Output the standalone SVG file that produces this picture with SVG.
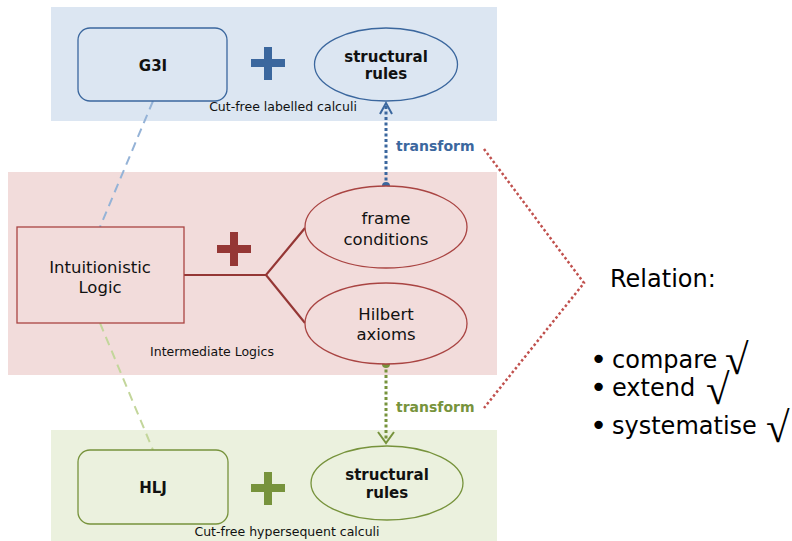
<svg xmlns="http://www.w3.org/2000/svg" width="792" height="541" viewBox="0 0 792 541">
  <style>
    .lbl { font-family: "DejaVu Sans", "Liberation Sans", sans-serif; fill: #111; text-anchor: middle; }
    .big { font-size: 16.5px; }
    .bold { font-size: 15px; font-weight: bold; }
    .cap { font-size: 12.5px; }
    .side { font-family: "DejaVu Sans", "Liberation Sans", sans-serif; fill: #000; font-size: 24px; }
    .bul { font-size: 29px; }
    .chk { font-family: "Liberation Serif", "DejaVu Serif", serif; font-size: 43px; }
    .tr { font-family: "DejaVu Sans", "Liberation Sans", sans-serif; font-size: 14px; font-weight: bold; }
  </style>

  <!-- background bands -->
  <rect x="51" y="7" width="446" height="114" fill="#dce6f2"/>
  <rect x="8" y="172" width="489" height="203" fill="#f2dcdb"/>
  <rect x="51" y="430" width="446" height="111" fill="#ebf1de"/>

  <!-- connectors -->
  <g id="connectors" fill="none">
    <line x1="153" y1="101" x2="100" y2="227" stroke="#95b3d7" stroke-width="2" stroke-dasharray="9 6"/>
    <line x1="100" y1="323" x2="153" y2="450" stroke="#c3d69b" stroke-width="2" stroke-dasharray="9 6"/>
    <polyline points="184,275 266,275 305,228" stroke="#953735" stroke-width="2.2"/>
    <line x1="266" y1="275" x2="305" y2="323" stroke="#953735" stroke-width="2.2"/>
    <line x1="386" y1="186" x2="386" y2="105" stroke="#3b679e" stroke-width="3" stroke-dasharray="3 2.5"/>
    <path d="M380 114 L386 103 L392 114" stroke="#3b679e" stroke-width="2"/>
    <circle cx="386" cy="186" r="4" fill="#3b679e"/>
    <line x1="386" y1="364" x2="386" y2="441" stroke="#77933c" stroke-width="3" stroke-dasharray="3 2.5"/>
    <path d="M378 432 L386 443 L394 432" stroke="#77933c" stroke-width="2"/>
    <circle cx="386" cy="364" r="4" fill="#77933c"/>
    <polyline points="484,149 584,283 484,408" stroke="#c0504d" stroke-width="2.5" stroke-dasharray="2.5 2.5"/>
    <text class="tr" x="396" y="151" fill="#3b679e">transform</text>
    <text class="tr" x="396" y="412" fill="#77933c">transform</text>
  </g>

  <!-- top band: labelled calculi -->
  <g id="g3i">
    <rect x="78" y="28" width="149" height="73" rx="12" fill="#dce6f2" stroke="#3b679e" stroke-width="1.3"/>
    <text class="lbl bold" x="153" y="71" font-size="16px">G3I</text>
  </g>
  <g id="plusBlue" fill="#3b679e">
    <rect x="251" y="59" width="34" height="8"/>
    <rect x="264" y="47" width="8" height="33"/>
  </g>
  <g id="structTop">
    <ellipse cx="386" cy="64.5" rx="71.5" ry="36.5" fill="#dce6f2" stroke="#3b679e" stroke-width="1.3"/>
    <text class="lbl bold" x="386" y="62">structural</text>
    <text class="lbl bold" x="386" y="79">rules</text>
  </g>
  <text class="lbl cap" x="283" y="111">Cut-free labelled calculi</text>

  <!-- middle band: intermediate logics -->
  <g id="intuitionistic">
    <rect x="17" y="227" width="167" height="96" fill="#f2dcdb" stroke="#a94442" stroke-width="1.3"/>
    <text class="lbl big" x="100" y="273">Intuitionistic</text>
    <text class="lbl big" x="100" y="293">Logic</text>
  </g>
  <g id="plusRed" fill="#953735">
    <rect x="217" y="245" width="34" height="8"/>
    <rect x="230" y="232" width="8" height="34"/>
  </g>
  <g id="frame">
    <ellipse cx="386" cy="227" rx="81" ry="41" fill="#f2dcdb" stroke="#a94442" stroke-width="1.3"/>
    <text class="lbl big" x="386" y="224">frame</text>
    <text class="lbl big" x="386" y="245">conditions</text>
  </g>
  <g id="hilbert">
    <ellipse cx="386" cy="323.5" rx="81" ry="40.5" fill="#f2dcdb" stroke="#a94442" stroke-width="1.3"/>
    <text class="lbl big" x="386" y="320">Hilbert</text>
    <text class="lbl big" x="386" y="340">axioms</text>
  </g>
  <text class="lbl cap" x="212" y="356">Intermediate Logics</text>

  <!-- bottom band: hypersequent calculi -->
  <g id="hlj">
    <rect x="78" y="450" width="150" height="74" rx="12" fill="#ebf1de" stroke="#77933c" stroke-width="1.3"/>
    <text class="lbl bold" x="153" y="493" font-size="16px">HLJ</text>
  </g>
  <g id="plusGreen" fill="#77933c">
    <rect x="251" y="484" width="34" height="8"/>
    <rect x="264" y="472" width="8" height="33"/>
  </g>
  <g id="structBottom">
    <ellipse cx="387" cy="483" rx="76" ry="37" fill="#ebf1de" stroke="#77933c" stroke-width="1.3"/>
    <text class="lbl bold" x="387" y="480">structural</text>
    <text class="lbl bold" x="387" y="498">rules</text>
  </g>
  <text class="lbl cap" x="287" y="536">Cut-free hypersequent calculi</text>

  <!-- relation list -->
  <g id="relation">
    <text class="side" x="610" y="287">Relation:</text>
    <text class="side" x="590" y="368"><tspan class="bul" dy="1">•</tspan><tspan dy="-1" x="612">compare</tspan><tspan class="chk" x="725" dy="6">√</tspan></text>
    <text class="side" x="590" y="396"><tspan class="bul" dy="1">•</tspan><tspan dy="-1" x="612">extend</tspan><tspan class="chk" x="706" dy="8">√</tspan></text>
    <text class="side" x="590" y="434"><tspan class="bul" dy="1">•</tspan><tspan dy="-1" x="612">systematise</tspan><tspan class="chk" x="766" dy="8">√</tspan></text>
  </g>
</svg>
